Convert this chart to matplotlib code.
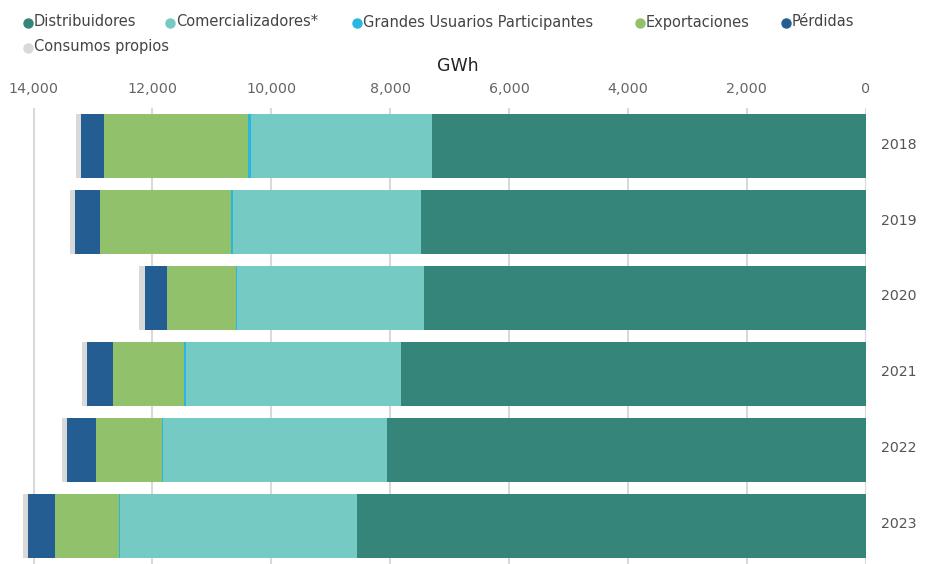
import matplotlib
matplotlib.use("Agg")
import matplotlib.pyplot as plt
import matplotlib.transforms as mtransforms
from matplotlib.lines import Line2D
import numpy as np

plt.rcParams['font.family'] = ['DejaVu Sans']

years = ["2018", "2019", "2020", "2021", "2022", "2023"]
series = ["Distribuidores", "Comercializadores*", "Grandes Usuarios Participantes",
          "Exportaciones", "Pérdidas", "Consumos propios"]
distribuidores = [7301, 7481, 7430, 7822, 8053, 8558]
comercializadores = [3046, 3169, 3148, 3614, 3770, 3994]
grandes_usuarios = [40, 34, 16, 34, 17, 17]
exportaciones = [2424, 2199, 1161, 1200, 1111, 1072]
perdidas = [392, 416, 371, 427, 483, 459]
consumos_propios = [79, 89, 96, 95, 94, 85]
colors = ["#36857a", "#76cac4", "#29b6e0", "#91c16b", "#245d91", "#d9d9d9"]

values = [distribuidores, comercializadores, grandes_usuarios,
          exportaciones, perdidas, consumos_propios]

W, H = 930, 564
fig = plt.figure(figsize=(W / 100, H / 100), dpi=100)
ax = fig.add_axes([15.8 / W, 0, (865.5 - 15.8) / W, (564 - 108) / H])

y = np.arange(len(years))
left = np.zeros(len(years))
for name, vals, c in zip(series, values, colors):
    vals = np.array(vals, dtype=float)
    ax.barh(y, vals, left=left, height=0.835, color=c, label=name, zorder=3)
    left += vals

ax.set_xlim(14300, 0)
ax.set_ylim(5.5, -0.5)
ax.set_xticks(np.arange(0, 14001, 2000))
ax.set_xticklabels([f"{v:,}" for v in range(0, 14001, 2000)])
ax.xaxis.tick_top()
ax.tick_params(axis='x', length=0, pad=9, labelsize=10.3, labelcolor="#666666")
ax.yaxis.tick_right()
ax.set_yticks(y)
ax.set_yticklabels(years)
ax.tick_params(axis='y', length=0, pad=11, labelsize=10.2, labelcolor="#555555")
# nudge year labels up a little, as in the reference
shift = mtransforms.ScaledTranslation(0, 3 / 100, fig.dpi_scale_trans)
for lab in ax.get_yticklabels():
    lab.set_transform(lab.get_transform() + shift)
ax.grid(axis='x', color="#d9d9d9", linewidth=1.5, zorder=0)
for s in ax.spines.values():
    s.set_visible(False)

fig.text(458 / W, 1 - 66 / H, "GWh", ha='center', va='center', fontsize=12.5, color="#222222")

# legend, drawn by hand to keep the reference's wrapping
leg_pos = [(28, 22), (170, 22), (357, 22), (640, 22), (786, 22), (28, 47)]
for (px, py), name, c in zip(leg_pos, series, colors):
    fig.add_artist(Line2D([px / W], [1 - (py + 1) / H], transform=fig.transFigure,
                          marker='o', markersize=6.5, color=c, linestyle='none'))
    fig.text((px + 6) / W, 1 - py / H, name, ha='left', va='center',
             fontsize=10.5, color="#444444")

fig.savefig("out.png", dpi=100)
